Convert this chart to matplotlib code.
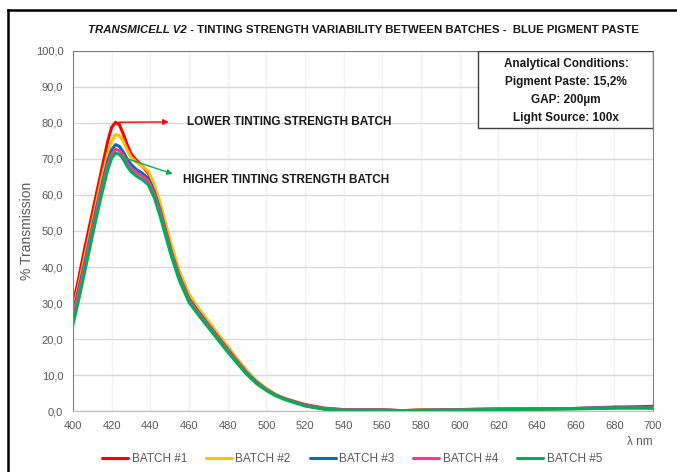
import matplotlib.pyplot as plt
from matplotlib.lines import Line2D

plt.rcParams['font.family'] = ['Liberation Sans', 'DejaVu Sans']

wavelength = [400, 403, 406, 409, 412, 415, 418, 420, 422, 424, 426, 428, 430, 433, 436, 439,
              442, 445, 448, 451, 455, 460, 465, 470, 475, 480, 485, 490, 495, 500, 505, 510,
              520, 530, 540, 550, 560, 570, 580, 590, 600, 620, 640, 660, 680, 700]

batch1 = [29.5, 37, 45, 52.5, 60, 67.5, 75, 78.8, 80.2, 79.5, 77, 74, 71.5, 69.5, 68, 66,
          62, 56.5, 50, 44, 37, 31, 27.2, 23.8, 20.5, 17.2, 13.8, 10.6, 8, 6, 4.5, 3.4,
          1.8, 0.8, 0.4, 0.3, 0.3, 0.1, 0.3, 0.3, 0.4, 0.6, 0.6, 0.7, 1.0, 1.3]
batch2 = [28, 35, 42.5, 50, 57.5, 65, 71.5, 75, 76.8, 76.5, 75, 72.5, 70.5, 69, 68, 66.5,
          63, 58, 52, 46, 39, 32.5, 28.5, 25, 21.5, 18, 14.5, 11.2, 8.4, 6.3, 4.6, 3.4,
          1.6, 0.6, 0.3, 0.3, 0.3, 0.1, 0.3, 0.3, 0.4, 0.5, 0.6, 0.7, 0.9, 1.0]
batch3 = [27, 34, 41, 48.5, 56, 63, 69.5, 72.5, 74, 73.5, 72, 70, 68.5, 67, 66, 64.5,
          61, 56, 50, 44, 37.5, 31.2, 27.5, 24, 20.6, 17.2, 13.8, 10.6, 8, 6, 4.4, 3.3,
          1.6, 0.6, 0.3, 0.3, 0.3, 0.1, 0.2, 0.3, 0.4, 0.5, 0.6, 0.7, 1.1, 0.9]
batch4 = [26, 33, 40, 47.5, 55, 62, 68.3, 71.3, 72.7, 72.3, 71, 69, 67.5, 66.2, 65.2, 63.8,
          60.3, 55.3, 49.3, 43.5, 37, 30.8, 27.1, 23.7, 20.3, 16.9, 13.6, 10.4, 7.8, 5.9, 4.3, 3.2,
          1.5, 0.6, 0.3, 0.3, 0.3, 0.1, 0.2, 0.3, 0.4, 0.5, 0.6, 0.7, 0.9, 0.9]
batch5 = [24, 31, 38.5, 46, 53.5, 60.5, 67, 70.2, 71.6, 71.3, 70, 68, 66.5, 65.2, 64.2, 62.8,
          59.3, 54.3, 48.5, 42.8, 36.3, 30.2, 26.6, 23.2, 19.8, 16.4, 13.2, 10.1, 7.6, 5.7, 4.2, 3.1,
          1.4, 0.5, 0.2, 0.2, 0.2, 0.0, 0.2, 0.2, 0.3, 0.4, 0.5, 0.6, 0.8, 0.8]

series = [batch1, batch2, batch3, batch4, batch5]
labels = ['BATCH #1', 'BATCH #2', 'BATCH #3', 'BATCH #4', 'BATCH #5']
colors = ['#FF0000', '#FFC000', '#0070C0', '#FF3399', '#00B050']

xticks = list(range(400, 701, 20))
yticks = list(range(0, 101, 10))

gray = '#595959'

fig = plt.figure(figsize=(6.77, 4.72), dpi=100)
ax = fig.add_axes([0.1078, 0.1292, 0.8567, 0.7628])

for vals, lab, c in zip(series, labels, colors):
    ax.plot(wavelength, vals, color=c, lw=2.2, label=lab,
            solid_capstyle='round', solid_joinstyle='round')

ax.set_xlim(400, 700)
ax.set_ylim(0, 100)
ax.set_xticks(xticks)
ax.set_yticks(yticks)
ax.set_yticklabels([f"{v},0" for v in yticks])
ax.tick_params(colors=gray, labelsize=8, length=0, pad=7)
ax.grid(axis='y', color='#D9D9D9', lw=1)
ax.grid(axis='x', color='#F2F2F2', lw=1)
ax.set_axisbelow(True)
for side in ['left', 'top', 'right']:
    ax.spines[side].set_color('#808080')
ax.spines['bottom'].set_color('#BFBFBF')

ax.set_ylabel('% Transmission', fontsize=10, color=gray, labelpad=1)
ax.text(1.0, -0.085, 'λ nm', transform=ax.transAxes, ha='right', va='center',
        fontsize=8.5, color=gray)

# arrows and labels
ax.annotate('', xy=(451, 80.3), xytext=(422, 80.2),
            arrowprops=dict(arrowstyle='-|>', color='#FF0000', lw=1, mutation_scale=8))
ax.text(459, 80.3, 'LOWER TINTING STRENGTH BATCH', fontsize=8.5, fontweight='bold',
        va='center', color='#1a1a1a')
ax.annotate('', xy=(453, 65.6), xytext=(424, 70.8),
            arrowprops=dict(arrowstyle='-|>', color='#00B050', lw=1, mutation_scale=8))
ax.text(457, 64.2, 'HIGHER TINTING STRENGTH BATCH', fontsize=8.5, fontweight='bold',
        va='center', color='#1a1a1a')

# conditions box
box = plt.Rectangle((609.5, 78.6), 90.5, 21.4, facecolor='white', edgecolor='#404040',
                    lw=1, zorder=5)
ax.add_patch(box)
cond = ['Analytical Conditions:', 'Pigment Paste: 15,2%', 'GAP: 200µm', 'Light Source: 100x']
for i, line in enumerate(cond):
    ax.text(655, 96.5 - i * 5.0, line, ha='center', va='center', fontsize=8.5,
            fontweight='bold', color='#1a1a1a', zorder=6)

# title
t1 = fig.text(0.13, 0.936, 'TRANSMICELL V2', fontsize=8.2, fontweight='bold',
              fontstyle='italic', color='#1a1a1a', va='center')
fig.canvas.draw()
ax.annotate(' - TINTING STRENGTH VARIABILITY BETWEEN BATCHES -  BLUE PIGMENT PASTE',
            xy=(1, 0.5), xycoords=t1, va='center', fontsize=8.2, fontweight='bold',
            color='#1a1a1a', annotation_clip=False)

fig.legend(loc='center', bbox_to_anchor=(0.52, 0.028), ncol=5, frameon=False,
           fontsize=8.5, handlelength=2.2, columnspacing=1.6, handletextpad=0.3,
           labelcolor=gray)

# outer frame lines (left, top)
fig.add_artist(Line2D([0.0118, 0.0118], [0, 0.979], color='black', lw=1.8,
                      transform=fig.transFigure))
fig.add_artist(Line2D([0.0118, 1.0], [0.979, 0.979], color='black', lw=1.8,
                      transform=fig.transFigure))

fig.savefig('out.png', dpi=100)
